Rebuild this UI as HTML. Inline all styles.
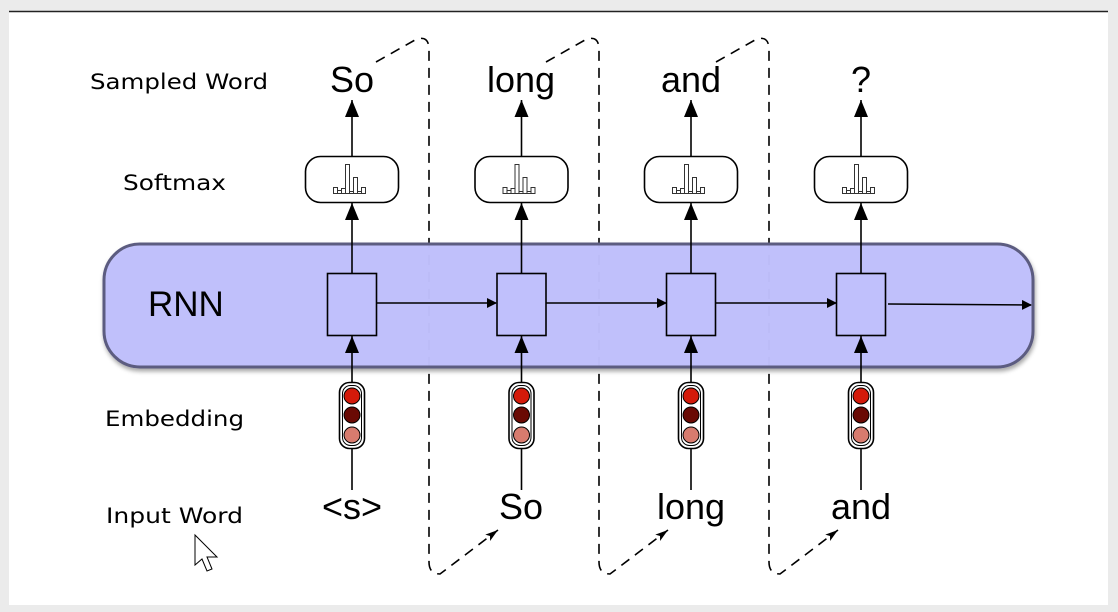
<!DOCTYPE html>
<html><head><style>
html,body{margin:0;padding:0;background:#e9e9e9;}
svg{display:block;}
</style></head><body>
<svg width="1118" height="612" viewBox="0 0 1118 612" xmlns="http://www.w3.org/2000/svg">
<defs>
<marker id="ah" markerWidth="10" markerHeight="10" refX="9" refY="5" orient="auto" markerUnits="userSpaceOnUse">
<path d="M0,0 L10,5 L0,10 Z" fill="#000"/></marker>
<marker id="ah2" markerWidth="14" markerHeight="14" refX="13" refY="5" orient="auto" markerUnits="userSpaceOnUse">
<path d="M0,1 L13,5 L0,9 L3,5 Z" fill="#000"/></marker>
<marker id="big" markerWidth="18" markerHeight="14" refX="17" refY="7" orient="auto" markerUnits="userSpaceOnUse">
<path d="M0,0 L17,7 L0,14 Z" fill="#000"/></marker>
<filter id="sh" x="-5%" y="-10%" width="110%" height="130%"><feDropShadow dx="1" dy="3" stdDeviation="2" flood-opacity="0.35"/></filter>
</defs>
<rect x="0" y="0" width="1118" height="612" fill="#ebebeb"/>
<rect x="9" y="11" width="1099" height="594" fill="#fff"/>
<line x1="9" y1="11.5" x2="1108" y2="11.5" stroke="#222" stroke-width="1.5"/>

<g font-family="DejaVu Sans, sans-serif" font-size="21" fill="#000">
<text x="90" y="89" textLength="178" lengthAdjust="spacingAndGlyphs">Sampled Word</text>
<text x="123" y="190" textLength="103" lengthAdjust="spacingAndGlyphs">Softmax</text>
<text x="105" y="426" textLength="139" lengthAdjust="spacingAndGlyphs">Embedding</text>
<text x="106" y="523" textLength="137" lengthAdjust="spacingAndGlyphs">Input Word</text>
</g>

<g fill="none" stroke="#000" stroke-width="1.6" stroke-dasharray="10,7">
<path d="M376,62 L415,40 Q429,34 429,50 L429,562 Q429,574 440,574 L498,530" marker-end="url(#ah2)"/>
<path d="M546,62 L585,40 Q599,34 599,50 L599,562 Q599,574 610,574 L668,530" marker-end="url(#ah2)"/>
<path d="M716,62 L755,40 Q769,34 769,50 L769,562 Q769,574 780,574 L838,530" marker-end="url(#ah2)"/>
</g>

<rect x="104" y="244" width="929" height="123" rx="36" fill="#c0c0fc" fill-opacity="0.97" stroke="#5c5c80" stroke-width="3" filter="url(#sh)"/>
<text x="148" y="316" font-family="Liberation Sans, sans-serif" font-size="35" fill="#000">RNN</text>

<g stroke="#000" stroke-width="1.5" fill="none">
<line x1="376" y1="303" x2="496" y2="303" marker-end="url(#ah)"/>
<line x1="546" y1="303" x2="666" y2="303" marker-end="url(#ah)"/>
<line x1="716" y1="303" x2="836" y2="303" marker-end="url(#ah)"/>
<line x1="888" y1="304" x2="1031" y2="305" marker-end="url(#ah)"/>
</g>

<g font-family="Liberation Sans, sans-serif" font-size="36" fill="#000" text-anchor="middle">
<text x="352" y="92">So</text>
<text x="521" y="92">long</text>
<text x="691" y="92">and</text>
<text x="861" y="92">?</text>
<text x="352" y="519">&lt;s&gt;</text>
<text x="521" y="519">So</text>
<text x="691" y="519">long</text>
<text x="861" y="519">and</text>
</g>

<g stroke="#000" stroke-width="1.6">
<g id="ln">
<line x1="352" y1="273" x2="352" y2="203" marker-end="url(#big)"/>
<line x1="352" y1="156" x2="352" y2="100" marker-end="url(#big)"/>
<line x1="352" y1="448" x2="352" y2="490"/>
<line x1="352" y1="382" x2="352" y2="336" marker-end="url(#big)"/>
</g>
<use href="#ln" transform="translate(169.5,0)"/>
<use href="#ln" transform="translate(339,0)"/>
<use href="#ln" transform="translate(509,0)"/>
</g>

<g id="c1">
<rect x="327.5" y="273.5" width="49" height="62" fill="#c0c0fc" stroke="#000" stroke-width="1.6"/>
<rect x="305.5" y="156.5" width="93" height="46" rx="15" fill="#fff" stroke="#000" stroke-width="1.6"/>
<g fill="#fff" stroke="#333" stroke-width="1">
<rect x="333.5" y="187.5" width="4" height="6"/><rect x="337.5" y="190.5" width="4" height="3"/>
<rect x="341.5" y="188.5" width="4" height="5"/><rect x="345.5" y="164.5" width="4" height="29"/>
<rect x="349.5" y="191.5" width="4" height="2"/><rect x="353.5" y="177.5" width="4" height="16"/>
<rect x="357.5" y="191.5" width="4" height="2"/><rect x="361.5" y="187.5" width="4" height="6"/>
</g>
<rect x="339.5" y="382.5" width="25" height="66" rx="10" fill="#fff" stroke="#000" stroke-width="1.6"/>
<rect x="342.5" y="385.5" width="19" height="60" rx="8" fill="none" stroke="#000" stroke-width="1"/>
<circle cx="352" cy="396" r="8" fill="#d41a0a" stroke="#000" stroke-width="1"/>
<circle cx="352" cy="415" r="8" fill="#6a0a04" stroke="#000" stroke-width="1"/>
<circle cx="352" cy="435" r="8" fill="#d77b6e" stroke="#000" stroke-width="1"/>
</g>
<use href="#c1" transform="translate(169.5,0)"/>
<use href="#c1" transform="translate(339,0)"/>
<use href="#c1" transform="translate(509,0)"/>

<path d="M195,535 L195,565 L202,559 L207,571 L212,569 L207,557 L217,557 Z" fill="#fff" stroke="#000" stroke-width="1"/>
</svg>
</body></html>
